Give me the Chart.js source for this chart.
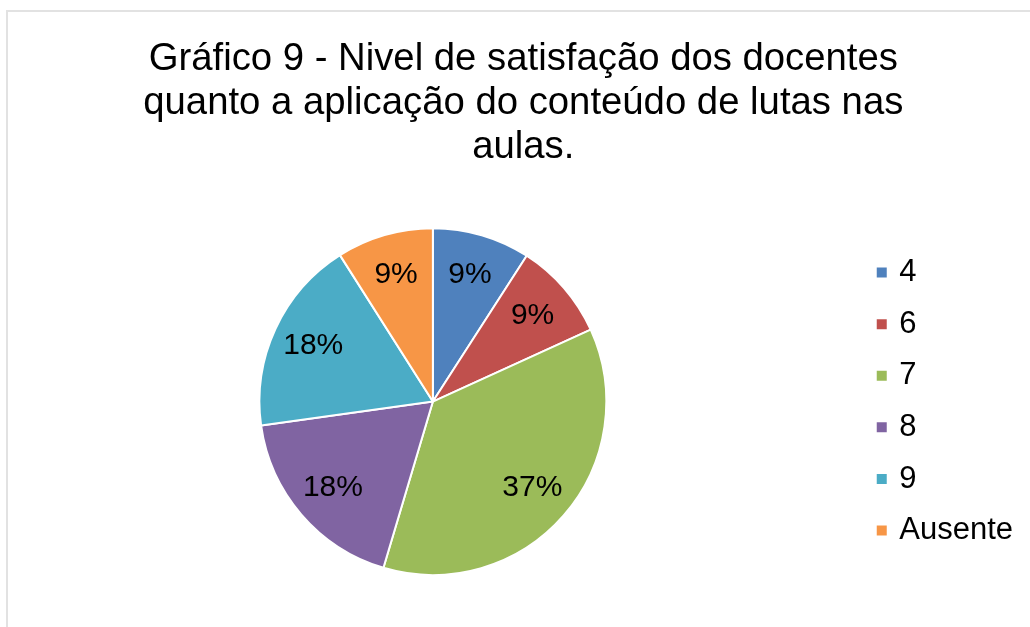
<!DOCTYPE html>
<html>
<head>
<meta charset="utf-8">
<script src="https://cdn.jsdelivr.net/npm/chart.js@4.4.1/dist/chart.umd.min.js"></script>
<style>
  html, body { margin: 0; padding: 0; background: #fff; overflow: hidden; }
  body { width: 1030px; height: 627px; position: relative; }
  .frame { position: absolute; left: 6px; top: 10px; width: 1100px; height: 700px;
           border-left: 2px solid #e2e2e2; border-top: 2px solid #e2e2e2; }
  .wrap { position: absolute; left: 0; top: 0; width: 1040px; height: 627px; }
</style>
</head>
<body>
<div class="frame"></div>
<div class="wrap"><canvas id="pieChart"></canvas></div>
<script>
// Dados do gráfico
const titleLines = [
    'Gráfico 9 - Nivel de satisfação dos docentes',
    'quanto a aplicação do conteúdo de lutas nas',
    'aulas.'
];
const categories = ['4', '6', '7', '8', '9', 'Ausente'];
const shares = [9.1, 9.1, 36.4, 18.2, 18.2, 9.0];
const pctText = ['9%', '9%', '37%', '18%', '18%', '9%'];
const sliceColors = ['#4F81BD', '#C0504D', '#9BBB59', '#8064A2', '#4BACC6', '#F79646'];

const fontFamily = '"Liberation Sans", Arial, sans-serif';

// Rótulos de porcentagem dentro das fatias
const pctLabels = {
    id: 'pctLabels',
    afterDatasetsDraw(chart) {
        const ctx = chart.ctx;
        const meta = chart.getDatasetMeta(0);
        ctx.save();
        ctx.font = '30px ' + fontFamily;
        ctx.fillStyle = '#000';
        ctx.textAlign = 'center';
        ctx.textBaseline = 'middle';
        meta.data.forEach((arc, i) => {
            const p = arc.getProps(['x', 'y', 'startAngle', 'endAngle', 'outerRadius'], true);
            const mid = (p.startAngle + p.endAngle) / 2;
            const r = p.outerRadius * 0.76;
            ctx.fillText(pctText[i], p.x + Math.cos(mid) * r, p.y + Math.sin(mid) * r);
        });
        ctx.restore();
    }
};

// Espaço vazio à direita da legenda
const rightGap = {
    id: 'rightGap',
    beforeInit(chart) {
        Chart.layouts.addBox(chart, {
            position: 'right', weight: 1500, fullSize: false, options: {},
            left: 0, top: 0, right: 0, bottom: 0, width: 0, height: 0,
            isHorizontal() { return false; },
            getPadding() { return { left: 0, right: 0, top: 0, bottom: 0 }; },
            update(maxWidth, maxHeight) { this.width = 17; this.height = maxHeight; },
            draw() {}
        });
    }
};

const ctx = document.getElementById('pieChart').getContext('2d');
new Chart(ctx, {
    type: 'pie',
    data: {
        labels: categories,
        datasets: [{
            data: shares,
            backgroundColor: sliceColors,
            borderColor: '#fff',
            borderWidth: 2
        }]
    },
    plugins: [pctLabels, rightGap],
    options: {
        responsive: true,
        maintainAspectRatio: false,
        animation: false,
        events: [],
        layout: {
            padding: { left: 6.6, right: 0, top: 0, bottom: 51 }
        },
        plugins: {
            title: {
                display: true,
                text: titleLines,
                color: '#000',
                font: { family: fontFamily, size: 38.3, weight: 'normal', lineHeight: 1.15 },
                padding: { top: 37, bottom: 58 }
            },
            legend: {
                position: 'right',
                fullSize: false,
                labels: {
                    color: '#000',
                    font: { family: fontFamily, size: 31 },
                    usePointStyle: true,
                    pointStyle: 'rect',
                    boxWidth: 4,
                    boxHeight: 12,
                    padding: 20.6
                }
            },
            tooltip: { enabled: false }
        }
    }
});
</script>
</body>
</html>
